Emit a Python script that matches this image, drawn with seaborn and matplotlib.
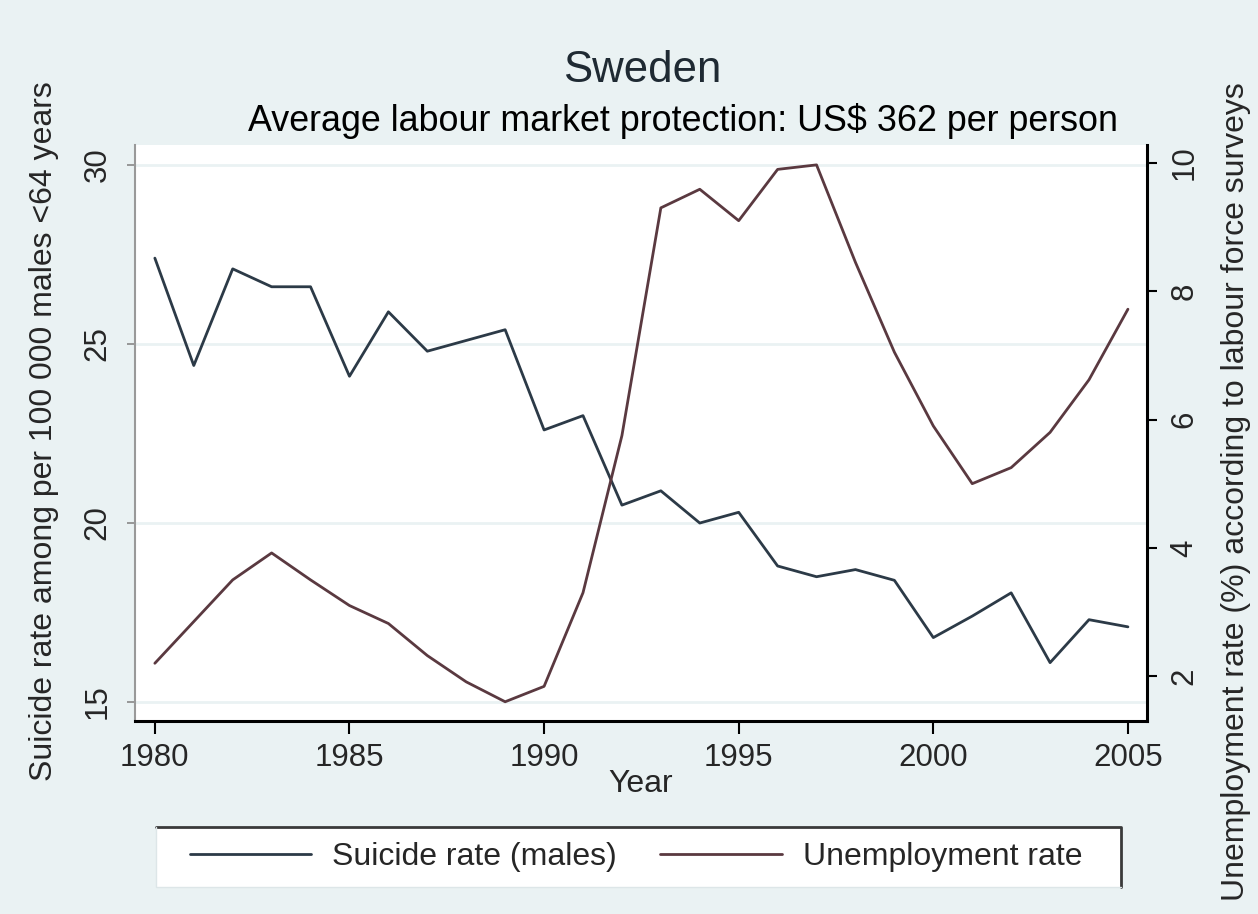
import matplotlib
matplotlib.use("Agg")
import matplotlib.pyplot as plt
import seaborn as sns
import pandas as pd
from matplotlib.lines import Line2D
from matplotlib.patches import Rectangle

years = list(range(1980, 2006))
suicide_rate = [27.4, 24.4, 27.1, 26.6, 26.6, 24.1, 25.9, 24.8, 25.1, 25.4,
                22.6, 23.0, 20.5, 20.9, 20.0, 20.3, 18.8, 18.5, 18.7, 18.4,
                16.8, 17.4, 18.05, 16.1, 17.3, 17.1]
unemployment_rate = [2.2, 2.85, 3.5, 3.92, 3.5, 3.1, 2.82, 2.32, 1.91, 1.6,
                     1.84, 3.3, 5.75, 9.3, 9.59, 9.1, 9.9, 9.97, 8.45, 7.05,
                     5.9, 5.0, 5.25, 5.8, 6.62, 7.72]
x_ticks = [1980, 1985, 1990, 1995, 2000, 2005]
left_ticks = [15, 20, 25, 30]
right_ticks = [2, 4, 6, 8, 10]

df = pd.DataFrame({"Year": years, "Suicide": suicide_rate, "Unemp": unemployment_rate})

sns.set_style("white")
plt.rcParams["font.family"] = ["Liberation Sans", "DejaVu Sans"]

BG = "#eaf2f3"
C1 = "#2c3a47"
C2 = "#5a3940"
W, H = 1258, 914

fig = plt.figure(figsize=(12.58, 9.14), dpi=100, facecolor=BG)
ax = fig.add_axes([135/W, 1-721/H, (1147-135)/W, (721-145)/H])
ax.set_facecolor("white")
ax2 = ax.twinx()

for y in left_ticks:
    ax.axhline(y, color=BG, lw=2.0, zorder=0)

sns.lineplot(data=df, x="Year", y="Suicide", ax=ax, color=C1, lw=2.0, legend=False)
sns.lineplot(data=df, x="Year", y="Unemp", ax=ax2, color=C2, lw=2.0, legend=False)

ax.set_xlim(1979.49, 2005.49)
ax.set_ylim(14.47, 30.56)
ax2.set_ylim(1.30, 10.28)

ax.set_xticks(x_ticks)
ax.set_xticklabels([str(t) for t in x_ticks], fontsize=22.5)
ax.set_yticks(left_ticks)
ax.set_yticklabels([str(t) for t in left_ticks], fontsize=22.5, rotation=90, va="center")
ax2.set_yticks(right_ticks)
ax2.set_yticklabels([str(t) for t in right_ticks], fontsize=22.5, rotation=90, va="center")

ax.tick_params(axis="x", direction="out", length=9, width=1.5, color="black", pad=7, bottom=True)
ax.tick_params(axis="y", direction="out", length=6, width=1.2, color="#888888", pad=10, left=True)
ax2.tick_params(axis="y", direction="out", length=7, width=1.5, color="black", pad=9, right=True)

for a in (ax, ax2):
    a.spines["top"].set_visible(False)
ax.spines["left"].set_color("#999999")
ax.spines["left"].set_linewidth(1.5)
ax.spines["bottom"].set_color("black")
ax.spines["bottom"].set_linewidth(2.2)
ax2.spines["left"].set_visible(False)
ax2.spines["bottom"].set_visible(False)
ax2.spines["right"].set_visible(True)
ax2.spines["right"].set_color("black")
ax2.spines["right"].set_linewidth(2.2)
ax.spines["right"].set_visible(False)

ax.set_xlabel("Year", fontsize=23, labelpad=-3)
ax.set_ylabel("Suicide rate among per 100 000 males <64 years", fontsize=23, va="center")
ax.yaxis.set_label_coords((44-135)/1012, (721-431)/576)
ax2.set_ylabel("Unemployment rate (%) according to labour force surveys", fontsize=23,
               rotation=90, va="center")
ax2.yaxis.set_label_coords((1236-135)/1012, (721-492)/576)

fig.text(642/W, 1-70/H, "Sweden", ha="center", va="center", fontsize=31.5, color="#1f2a33")
fig.text(683/W, 1-121/H, "Average labour market protection: US$ 362 per person",
         ha="center", va="center", fontsize=25.8, color="black")

# legend box (Stata-like: dark top and right edges)
x0, x1, y0, y1 = 156/W, 1121/W, 1-887/H, 1-827/H
fig.patches.append(Rectangle((x0, y0), x1-x0, y1-y0, transform=fig.transFigure,
                             facecolor="white", edgecolor="none", zorder=1))
fig.lines.append(Line2D([x0, x1, x1], [y1, y1, y0], transform=fig.transFigure,
                        color="#3a3a3a", lw=2.0, zorder=2))
fig.lines.append(Line2D([x0, x0, x1], [y1, y0, y0], transform=fig.transFigure,
                        color="#dde6e8", lw=1.0, zorder=2))

handles = [Line2D([], [], color=C1, lw=2.0), Line2D([], [], color=C2, lw=2.0)]
leg = fig.legend(handles, ["Suicide rate (males)", "Unemployment rate"], loc="center",
                 bbox_to_anchor=(636/W, 1-857/H), ncol=2, fontsize=23, frameon=False,
                 handlelength=3.8, columnspacing=1.35, borderpad=0.3,
                 handletextpad=0.66)
leg.set_zorder(3)

fig.savefig("out.png", dpi=100, facecolor=BG)
